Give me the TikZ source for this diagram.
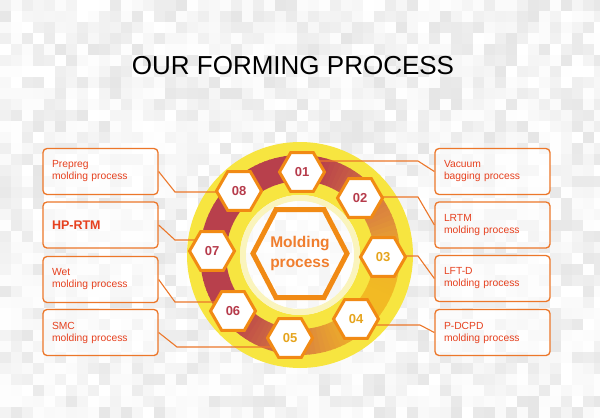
\documentclass[tikz,border=0pt]{standalone}
\usepackage{fontspec}
\setmainfont{Liberation Sans}
\usetikzlibrary{shapes.geometric,calc}
\pgfdeclarelayer{bg}
\pgfdeclarelayer{lines}
\pgfsetlayers{bg,lines,main}
\definecolor{hexOr}{HTML}{F18A14}
\definecolor{boxOr}{HTML}{EC772A}
\definecolor{boxText}{HTML}{E6401E}
\definecolor{numRed}{HTML}{B63B4B}
\definecolor{numGold}{HTML}{E6A41C}
\definecolor{midText}{HTML}{F07E2E}
\definecolor{rYel}{HTML}{F7E540}
\definecolor{rPale}{HTML}{FAF4BC}
\definecolor{rRed}{HTML}{B8404C}
\definecolor{rOr}{HTML}{DE8A3C}
\definecolor{rGold}{HTML}{F2BA24}
\tikzset{
  hexs/.style={regular polygon, regular polygon sides=6, minimum size=45pt, inner sep=0pt,
    draw=hexOr, line width=3pt, fill=white, font=\bfseries\fontsize{13}{13}\selectfont},
  boxst/.style={draw=boxOr, line width=1.3pt, rounded corners=4pt, fill=white, fill opacity=0.6,
    text opacity=1, minimum width=115pt, minimum height=46pt, text width=97pt, inner sep=0pt,
    align=left, font=\fontsize{10.3}{12}\selectfont, text=boxText},
  conn/.style={draw=boxOr, line width=1.1pt}
}
\begin{document}
\begin{tikzpicture}[x=1pt,y=-1pt]
\useasboundingbox (0,0) rectangle (600,418);
\coordinate (c) at (300,255);
% background mosaic
\begin{pgfonlayer}{bg}
\begin{scope}
\clip (0,0) rectangle (600,418);
\fill[white] (0,0) rectangle (600,418);
\pgfmathsetseed{11}
\foreach \i in {0,...,54}{
  \foreach \j in {0,...,37}{
    \pgfmathsetmacro\gval{10*rnd^1.4}
    \fill[black!\gval] (11*\i,11*\j) rectangle +(11,11);
  }
}
\end{scope}
% ring
\fill[rYel, even odd rule] (c) circle[radius=113] (c) circle[radius=60];
\foreach \a in {0,3,...,357}{
  \pgfmathsetmacro\tval{(1+cos(\a+1.5-30))/2}
  \pgfmathsetmacro\uval{100*max(0,min(1,(\tval-0.35)/0.45))}
  \pgfmathsetmacro\vval{100*max(0,min(1,(\tval-0.8)/0.2))}
  \colorlet{segA}{rOr!\uval!rRed}
  \colorlet{segB}{rGold!\vval!segA}
  \fill[segB] ($(c)+(\a:100)$) arc[start angle=\a,end angle=\a+3.4,radius=100]
    -- ($(c)+(\a+3.4:74)$) arc[start angle=\a+3.4,end angle=\a,radius=74] -- cycle;
}
\fill[rPale, even odd rule] (c) circle[radius=60] (c) circle[radius=54];
\fill[white, opacity=0.6] (c) circle[radius=54];
\end{pgfonlayer}

% title
\node[font=\fontsize{26}{26}\selectfont] (title) at (293,66) {OUR FORMING PROCESS};

% centre
\node[font=\bfseries\fontsize{15.5}{20}\selectfont, text=midText, align=center] (mid) at (300,253.5) {Molding\\process};
\draw[hexOr, line width=5pt, line join=miter]
  ($(mid)+(-47,0)$) -- ($(mid)+(-24,-44)$) -- ($(mid)+(24,-44)$) -- ($(mid)+(47,0)$)
  -- ($(mid)+(24,44)$) -- ($(mid)+(-24,44)$) -- cycle;

% hexagons
\node[hexs, text=numRed]  (h1) at (302,172) {01};
\node[hexs, text=numRed]  (h2) at (360,198) {02};
\node[hexs, text=numGold] (h3) at (383,257) {03};
\node[hexs, text=numGold] (h4) at (356,319) {04};
\node[hexs, text=numGold] (h5) at (290,338) {05};
\node[hexs, text=numRed]  (h6) at (233,311) {06};
\node[hexs, text=numRed]  (h7) at (212,251) {07};
\node[hexs, text=numRed]  (h8) at (239,191) {08};

% boxes
\node[boxst] (b1) at (100.5,171.5) {Prepreg\\molding process};
\node[boxst, font=\bfseries\fontsize{12.5}{14}\selectfont] (b2) at (100.5,225) {HP-RTM};
\node[boxst] (b3) at (100.5,279.5) {Wet\\molding process};
\node[boxst] (b4) at (100.5,332.5) {SMC\\molding process};
\node[boxst] (r1) at (492.5,171.5) {Vacuum\\bagging process};
\node[boxst] (r2) at (492.5,225) {LRTM\\molding process};
\node[boxst] (r3) at (492.5,278.5) {LFT-D\\molding process};
\node[boxst] (r4) at (492.5,332.5) {P-DCPD\\molding process};

% connectors
\coordinate (k1) at (175,192);
\coordinate (k2) at (175,240);
\coordinate (k3) at (175,302);
\coordinate (k4) at (177,347);
\coordinate (q1) at (418,161);
\coordinate (q2) at (418,197);
\coordinate (q3) at (418,256);
\coordinate (q4) at (420,325);
\begin{pgfonlayer}{lines}
\draw[conn] (b1.east) -- (k1) -- (k1 -| h8);
\draw[conn] (b2.east) -- (k2) -- (k2 -| h7);
\draw[conn] (b3.east) -- (k3) -- (k3 -| h6);
\draw[conn] (b4.east) -- (k4) -- (k4 -| h5);
\draw[conn] (r1.west) -- (q1) -- (q1 -| h1);
\draw[conn] (r2.west) -- (q2) -- (q2 -| h2);
\draw[conn] (r3.west) -- (q3) -- (q3 -| h3);
\draw[conn] (r4.west) -- (q4) -- (q4 -| h4);
\end{pgfonlayer}
\end{tikzpicture}
\end{document}
